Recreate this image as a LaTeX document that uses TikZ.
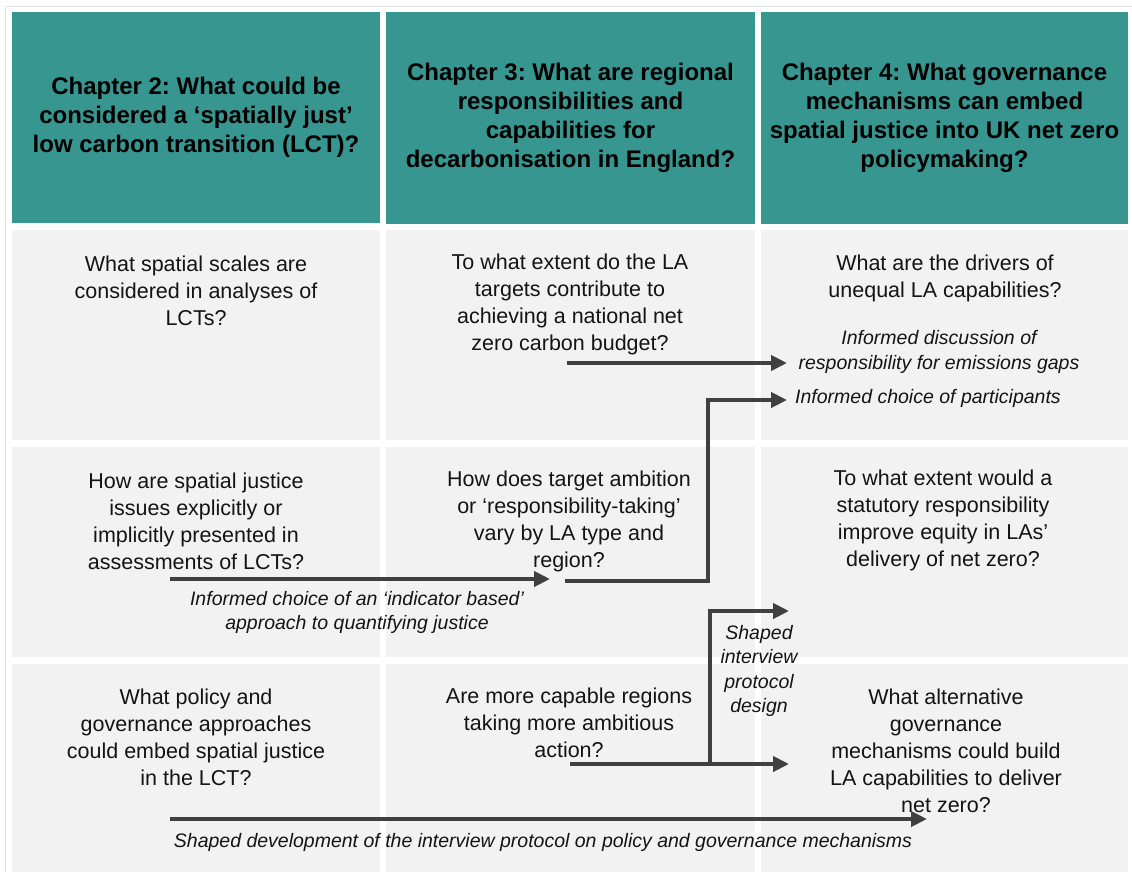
\documentclass[tikz,border=0pt]{standalone}
\usepackage{fontspec}
\setmainfont{Liberation Sans}
\usetikzlibrary{arrows.meta}
\frenchspacing

\definecolor{chapterteal}{HTML}{37968F}
\definecolor{cellgray}{HTML}{F2F2F2}
\definecolor{framegray}{HTML}{E3E3E3}
\definecolor{flowgray}{HTML}{404040}
\definecolor{bodytext}{HTML}{141414}

\tikzset{
  headcell/.style={fill=chapterteal, minimum width=368pt, minimum height=211pt,
    inner sep=0pt, align=center, text=black,
    font=\bfseries\fontsize{24}{29}\selectfont},
  question/.style={align=center, inner sep=0pt, text=bodytext,
    font=\fontsize{21.5}{27}\selectfont},
  outcome/.style={align=center, inner sep=0pt, text=bodytext,
    font=\itshape\fontsize{19.5}{24.5}\selectfont},
  flow/.style={line width=4.5pt, draw=flowgray, line join=miter,
    -{Triangle[length=16pt,width=15pt]}}
}

\begin{document}
\begin{tikzpicture}[x=1pt,y=-1pt]
  \useasboundingbox (0,0) rectangle (1132,872);
  \fill[white] (0,0) rectangle (1132,872);
  \draw[framegray, line width=1pt] (5.5,880) -- (5.5,6.5) -- (1131.5,6.5);

  % header row
  \node[headcell] (h2) at (196,117.5)
    {Chapter 2: What could be\\considered a ‘spatially just’\\low carbon transition (LCT)?};
  \node[headcell, minimum width=369pt] (h3) at (570.5,118)
    {Chapter 3: What are regional\\responsibilities and\\capabilities for\\decarbonisation in England?};
  \node[headcell, minimum width=367pt] (h4) at (944.5,118)
    {Chapter 4: What governance\\mechanisms can embed\\spatial justice into UK net zero\\policymaking?};

  % body cells
  \foreach \xa/\xb in {12/380, 386/755, 761/1128} {
    \fill[cellgray] (\xa,230) rectangle (\xb,440);
    \fill[cellgray] (\xa,447) rectangle (\xb,657);
    \fill[cellgray] (\xa,664) rectangle (\xb,873);
  }

  % research questions
  \node[question] (q21) at (196,291)
    {What spatial scales are\\considered in analyses of\\LCTs?};
  \node[question] (q31) at (570,304.5)
    {To what extent do the LA\\targets contribute to\\achieving a national net\\zero carbon budget?};
  \node[question] (q41) at (945,278.5)
    {What are the drivers of\\unequal LA capabilities?};

  \node[question] (q22) at (196,521)
    {How are spatial justice\\issues explicitly or\\implicitly presented in\\assessments of LCTs?};
  \node[question] (q32) at (569,521)
    {How does target ambition\\or ‘responsibility-taking’\\vary by LA type and\\region?};
  \node[question] (q42) at (943,520.5)
    {To what extent would a\\statutory responsibility\\improve equity in LAs’\\delivery of net zero?};

  \node[question] (q23) at (196,737.5)
    {What policy and\\governance approaches\\could embed spatial justice\\in the LCT?};
  \node[question] (q33) at (569,723)
    {Are more capable regions\\taking more ambitious\\action?};
  \node[question] (q43) at (946,751)
    {What alternative\\governance\\mechanisms could build\\LA capabilities to deliver\\net zero?};

  % outcomes carried between chapters
  \node[outcome] (o1) at (939,352)
    {Informed discussion of\\responsibility for emissions gaps};
  \node[outcome, anchor=west] (o2) at (795,398)
    {Informed choice of participants};
  \node[outcome] (o3) at (357,612.5)
    {Informed choice of an ‘indicator based’\\approach to quantifying justice};
  \node[outcome] (o4) at (759,671)
    {Shaped\\interview\\protocol\\design};
  \node[outcome] (o5) at (543,842)
    {Shaped development of the interview protocol on policy and governance mechanisms};

  % connector end points
  \coordinate (a1s) at (567,363);
  \coordinate (a1e) at (787,363);
  \coordinate (a2s) at (565,581);
  \coordinate (a2k) at (708,400);
  \coordinate (a2e) at (787,400);
  \coordinate (a3s) at (170,579);
  \coordinate (a3e) at (550,579);
  \coordinate (a4s) at (570,764);
  \coordinate (a4j) at (710,764);
  \coordinate (a4e) at (789,764);
  \coordinate (a4t) at (789,611);
  \coordinate (a5s) at (170,819);
  \coordinate (a5e) at (927,819);

  % connectors
  \draw[flow] (a1s) -- (a1e);
  \draw[flow] (a2s) -| (a2k) -- (a2e);
  \draw[flow] (a3s) -- (a3e);
  \draw[flow] (a4s) -- (a4e);
  \draw[flow] (a4j) |- (a4t);
  \draw[flow] (a5s) -- (a5e);
\end{tikzpicture}
\end{document}
